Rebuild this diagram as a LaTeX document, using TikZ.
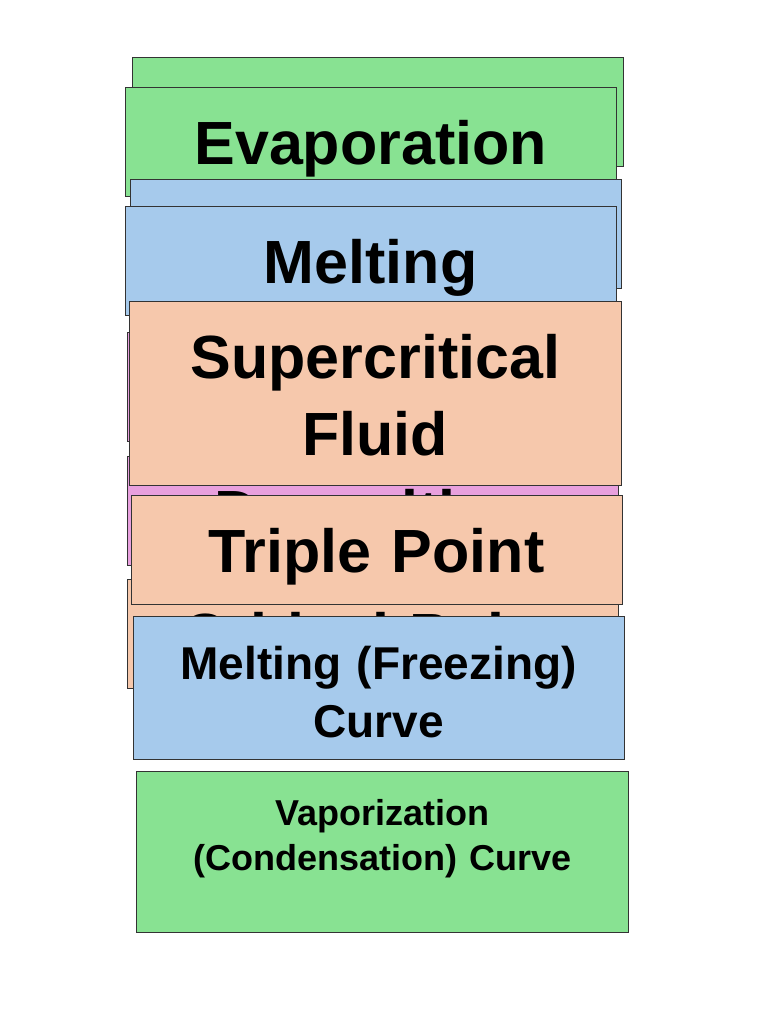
\documentclass[tikz,border=0pt]{standalone}
\usepackage{fontspec}
\setmainfont{Liberation Sans}
\usetikzlibrary{positioning}
\definecolor{leafgreen}{RGB}{136,226,146}
\definecolor{skyblue}{RGB}{166,202,236}
\definecolor{peach}{RGB}{246,200,172}
\definecolor{orchid}{RGB}{232,160,222}
\tikzstyle{card}=[draw=black!80,line width=0.9pt,inner sep=0pt,minimum width=491pt,minimum height=109pt,text width=480pt,align=center,text height=45pt,text depth=0pt,font=\bfseries\fontsize{61}{77}\selectfont]

\begin{document}
\begin{tikzpicture}[x=1pt,y=-1pt]
    \useasboundingbox (0,0) rectangle (768,1024);
    \node [card,fill=leafgreen] (greenback) at (377.9,112) {};
    \node [card,fill=leafgreen] (evap) at (370.65,142.2) {Evaporation};
    \node [card,fill=skyblue] (blueback) at (376,233.8) {};
    \node [card,fill=skyblue] (melt) at (370.65,261.35) {Melting};
    \node [card,fill=orchid] (pinkback) at (372.6,387.4) {};
    \node [card,fill=orchid] (depo) at (372.5,511.2) {Deposition};
    \node [card,fill=peach] (critical) at (372.65,633.65) {Critical Point};
    \node [card,fill=peach,minimum width=492pt,minimum height=184pt,text depth=75pt] (super) at (375.3,393) {Supercritical\\Fluid};
    \node [card,fill=peach] (triple) at (376.65,549.65) {Triple Point};
    \node [card,fill=skyblue,minimum height=143pt,text height=35pt,text depth=52pt,font=\bfseries\fontsize{46}{58}\selectfont] (meltcurve) at (378.65,687.5) {Melting (Freezing)\\Curve};
    \node [card,fill=leafgreen,minimum width=492pt,minimum height=161pt,text height=28pt,text depth=82.4pt,font=\bfseries\fontsize{36}{45}\selectfont] (vapcurve) at (382.3,852.2) {Vaporization\\(Condensation) Curve};
\end{tikzpicture}
\end{document}
